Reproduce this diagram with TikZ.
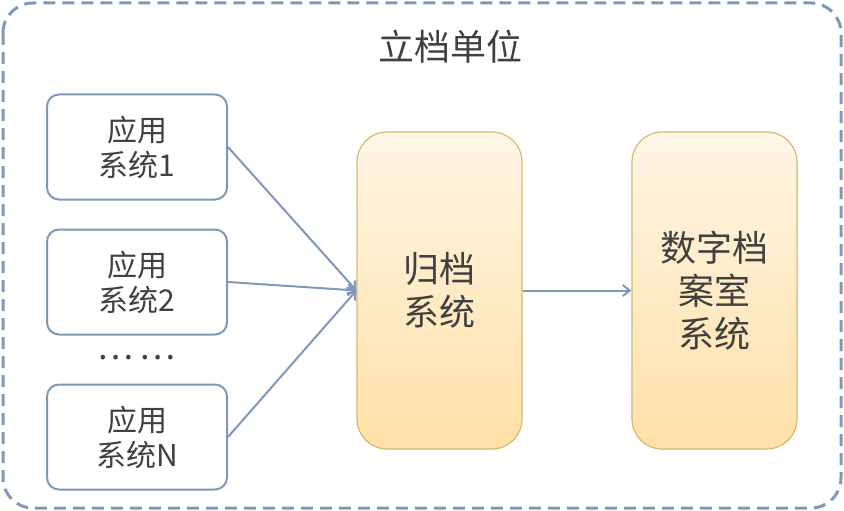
\documentclass[tikz,border=0pt]{standalone}
\usepackage{fontspec}
\setmainfont{Noto Sans CJK SC}
\usetikzlibrary{arrows.meta,positioning}
\definecolor{frameblue}{HTML}{7F98B9}
\definecolor{boxgold}{HTML}{D8B775}
\definecolor{goldtop}{HTML}{FFF6E6}
\definecolor{goldbot}{HTML}{FFE0A6}
\definecolor{inktext}{HTML}{404040}
\tikzset{
  app box/.style={draw=frameblue, line width=2pt, rounded corners=12pt, fill=white,
    minimum width=180pt, minimum height=105pt, align=center, text=inktext,
    font=\fontsize{30}{35}\selectfont},
  system box/.style={draw=boxgold, line width=1.2pt, rounded corners=30pt,
    top color=goldtop, bottom color=goldbot, minimum width=165pt, minimum height=317pt,
    align=center, text=inktext, font=\fontsize{36}{43}\selectfont},
  flow arrow/.style={-{Straight Barb[length=7pt,width=11pt]}, frameblue, line width=2pt},
  unit frame/.style={draw=frameblue, line width=3pt, rounded corners=30pt,
    dash pattern=on 12pt off 7pt},
}

\begin{document}
\begin{tikzpicture}[x=1pt,y=-1pt]
  \useasboundingbox (0,0) rectangle (844,511);

  % outer frame
  \draw[unit frame] (3,3) rectangle (841,508);
  \node[text=inktext,font=\fontsize{36}{40}\selectfont] (unit) at (450,47) {立档单位};

  % application systems
  \node[app box] (app1) at (137,147) {应用\\系统1};
  \node[app box] (app2) at (137,282) {应用\\系统2};
  \node[text=inktext,font=\fontsize{34}{38}\selectfont] (dots) at (137,358) {…\hspace{6pt}…};
  \node[app box] (appN) at (137,437) {应用\\系统N};

  % archiving and digital archive room
  \node[system box] (archive) at (439.5,290.5) {归档\\系统};
  \node[system box] (room) at (714.5,290.5) {数字档\\案室\\系统};

  \foreach \a in {app1,app2,appN}
    \draw[flow arrow] (\a.east) -- (archive.west);
  \draw[flow arrow] (archive) -- (room);
\end{tikzpicture}
\end{document}
